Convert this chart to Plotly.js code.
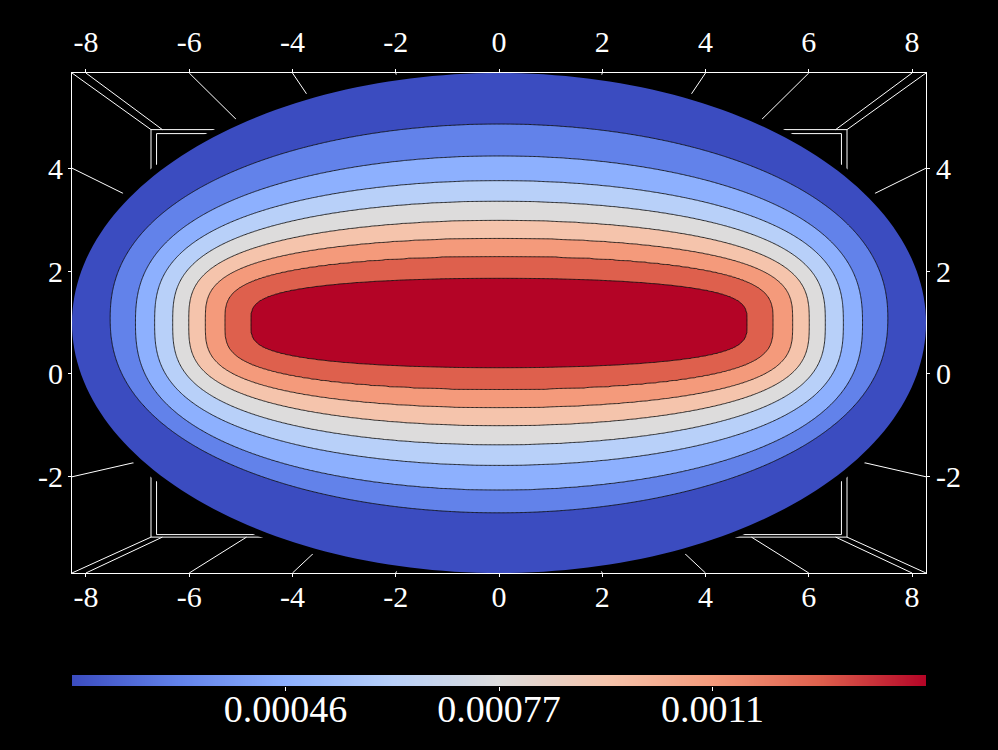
<!DOCTYPE html>
<html><head><meta charset="utf-8">
<script src="https://cdn.plot.ly/plotly-3.0.1.min.js"></script>
<style>html,body{margin:0;padding:0;background:#000;} #chart{width:998px;height:750px;}</style>
</head><body><div id="chart"></div>
<script>
// ---- Data ----
// Level curves: index 0 = outer domain boundary, 1..8 = drawn contour lines
const levelValues = [0.00015, 0.00028778, 0.00042556, 0.00056333, 0.00070111, 0.00083889, 0.00097667, 0.00111444, 0.00125222];
const peakValue = 0.00139;
const levelSemiAxisX = [8.27, 7.53, 7.04, 6.67, 6.32, 6.01, 5.69, 5.31, 4.81];
const levelSemiAxisY = [4.86, 3.78, 3.25, 2.77, 2.37, 2.00, 1.65, 1.30, 0.87];
const levelCenterY = [0.99, 1.08, 0.99, 0.99, 0.99, 0.99, 0.99, 0.99, 0.99];
const levelExponentX = [2.0, 2.0, 2.0, 2.0, 2.0, 2.0, 2.05, 2.05, 2.1];
const levelExponentY = [2.0, 2.25, 2.5, 2.7, 2.9, 3.1, 3.3, 3.5, 3.7];

const xTickValues = [-8, -6, -4, -2, 0, 2, 4, 6, 8];
const xTickLabels = ['-8', '-6', '-4', '-2', '0', '2', '4', '6', '8'];
const yTickValues = [-2, 0, 2, 4];
const yTickLabels = ['-2', '0', '2', '4'];
const xRange = [-8.27, 8.27];
const yRange = [-3.87, 5.85];

const colorbarMin = 0.00015;
const colorbarMax = 0.00139;
const colorbarTickValues = [0.00046, 0.00077, 0.00108];
const colorbarTickLabels = ['0.00046', '0.00077', '0.0011'];

const coolwarm = [[0, '#3B4CC0'], [0.125, '#6282EA'], [0.25, '#8DB0FE'], [0.375, '#B8D0F9'],
  [0.5, '#DDDCDC'], [0.625, '#F5C4AC'], [0.75, '#F49A7B'], [0.875, '#DE604D'], [1, '#B40426']];

// ---- Build the field on a grid from the level curves ----
function levelMeasure(k, x, y) {
  const dx = Math.abs(x) / levelSemiAxisX[k];
  const dy = Math.abs(y - levelCenterY[k]) / levelSemiAxisY[k];
  return Math.pow(dx, levelExponentX[k]) + Math.pow(dy, levelExponentY[k]);
}
function fieldValue(x, y) {
  const n = levelValues.length;
  const g = [];
  for (let k = 0; k < n; k++) g.push(levelMeasure(k, x, y));
  if (g[0] > 1.016) return null;
  let k = 0;
  for (let j = n - 1; j >= 0; j--) { if (g[j] <= 1) { k = j; break; } }
  if (k === n - 1) {
    return levelValues[k] + (peakValue - levelValues[k]) * (1 - g[k]);
  }
  const a = 1 - g[k], b = g[k + 1] - 1;
  const t = a / (a + b);
  return levelValues[k] + (levelValues[k + 1] - levelValues[k]) * t;
}
const gridX = [], gridY = [];
for (let i = 0; i <= 668; i++) gridX.push(-8.35 + i * 0.025);
for (let j = 0; j <= 396; j++) gridY.push(-3.95 + j * 0.025);
const gridZ = gridY.map(y => gridX.map(x => fieldValue(x, y)));

const nLines = levelValues.length - 1;
const contourSize = (levelValues[nLines] - levelValues[1]) / (nLines - 1);

// ---- Perspective box decoration (cube-axes look) ----
const vanish = [0, -0.1];
const innerScaleA = 0.815, innerScaleB = 0.802;
function proj(x, y, s) { return [vanish[0] + s * (x - vanish[0]), vanish[1] + s * (y - vanish[1])]; }
const shapes = [];
const lineStyle = {color: '#ffffff', width: 1};
function addLine(x0, y0, s) {
  const p = proj(x0, y0, s);
  shapes.push({type: 'line', xref: 'x', yref: 'y', x0: x0, y0: y0, x1: p[0], y1: p[1], line: lineStyle, layer: 'below'});
}
const xs = [xRange[0]].concat(xTickValues, [xRange[1]]);
xs.forEach(x => { addLine(x, yRange[1], innerScaleA); addLine(x, yRange[0], innerScaleA); });
yTickValues.forEach(y => { addLine(xRange[0], y, innerScaleA); addLine(xRange[1], y, innerScaleA); });
[innerScaleA, innerScaleB].forEach(s => {
  const p0 = proj(xRange[0], yRange[0], s), p1 = proj(xRange[1], yRange[1], s);
  shapes.push({type: 'rect', xref: 'x', yref: 'y', x0: p0[0], y0: p0[1], x1: p1[0], y1: p1[1], line: lineStyle, layer: 'below'});
});
// thin black ring that smooths the edge of the domain
(function () {
  const N = 240, a = levelSemiAxisX[0], b = levelSemiAxisY[0], cy = levelCenterY[0];
  let path = '';
  for (let i = 0; i <= N; i++) {
    const th = 2 * Math.PI * i / N;
    path += (i === 0 ? 'M' : 'L') + (1.022 * a * Math.cos(th)).toFixed(4) + ',' + (cy + 1.022 * b * Math.sin(th)).toFixed(4);
  }
  path += 'Z';
  for (let i = 0; i <= N; i++) {
    const th = -2 * Math.PI * i / N;
    path += (i === 0 ? 'M' : 'L') + (a * Math.cos(th)).toFixed(4) + ',' + (cy + b * Math.sin(th)).toFixed(4);
  }
  path += 'Z';
  shapes.push({type: 'path', xref: 'x', yref: 'y', path: path, fillcolor: '#000000', fillrule: 'evenodd', line: {width: 0}, layer: 'above'});
})();

const tickFont = {family: 'Liberation Serif, Times New Roman, serif', size: 30, color: '#ffffff'};

const traces = [
  {
    type: 'contour', x: gridX, y: gridY, z: gridZ,
    colorscale: coolwarm, showscale: false, hoverinfo: 'skip',
    autocontour: false, connectgaps: false,
    contours: {start: levelValues[1], end: levelValues[nLines], size: contourSize, coloring: 'fill'},
    line: {color: 'rgba(15,15,15,0.85)', width: 1, smoothing: 1}
  },
  {
    // invisible anchor so the mirrored top / right axes are drawn
    type: 'scatter', mode: 'markers', x: [0], y: [0], xaxis: 'x2', yaxis: 'y2',
    marker: {opacity: 0, size: 1}, hoverinfo: 'skip'
  },
  {
    // colour key bar
    type: 'heatmap', x: [colorbarMin, colorbarMax], y: [0], z: [[colorbarMin, colorbarMax]],
    xaxis: 'x3', yaxis: 'y3', zmin: colorbarMin, zmax: colorbarMax, zsmooth: 'best',
    colorscale: coolwarm, showscale: false, hoverinfo: 'skip'
  }
];

const axisCommon = {
  showgrid: false, zeroline: false, showline: true, linecolor: '#ffffff', linewidth: 1,
  ticks: 'outside', ticklen: 3, tickcolor: '#ffffff', tickfont: tickFont, fixedrange: true
};
const mainDomainY = [(750 - 573) / 677, 1];

const layout = {
  width: 998, height: 750,
  paper_bgcolor: '#000000', plot_bgcolor: '#000000',
  margin: {l: 72, r: 72, t: 73, b: 0},
  showlegend: false,
  xaxis: Object.assign({}, axisCommon, {range: xRange, tickvals: xTickValues, ticktext: xTickLabels, side: 'bottom', mirror: true, anchor: 'y', ticklabelstandoff: -6}),
  xaxis2: Object.assign({}, axisCommon, {range: xRange, tickvals: xTickValues, ticktext: xTickLabels, side: 'top', overlaying: 'x', anchor: 'y', ticklabelstandoff: 5}),
  yaxis: Object.assign({}, axisCommon, {range: yRange, domain: mainDomainY, tickvals: yTickValues, ticktext: yTickLabels, side: 'left', mirror: true, anchor: 'x', ticklabelstandoff: -1}),
  yaxis2: Object.assign({}, axisCommon, {range: yRange, tickvals: yTickValues, ticktext: yTickLabels, side: 'right', overlaying: 'y', anchor: 'x', ticklabelstandoff: 0}),
  xaxis3: {
    domain: [0, 1], anchor: 'y3', range: [colorbarMin, colorbarMax], showgrid: false, zeroline: false, showline: false,
    tickvals: colorbarTickValues, ticktext: colorbarTickLabels, ticks: 'outside', ticklen: 4, tickcolor: '#ffffff',
    tickfont: {family: 'Liberation Serif, Times New Roman, serif', size: 38, color: '#ffffff'}, ticklabelstandoff: -15, fixedrange: true
  },
  yaxis3: {domain: [(750 - 686) / 677, (750 - 675) / 677], anchor: 'x3', range: [-0.5, 0.5], visible: false, fixedrange: true},
  shapes: shapes
};

Plotly.newPlot('chart', traces, layout, {staticPlot: true, displayModeBar: false});
</script>
</body></html>
